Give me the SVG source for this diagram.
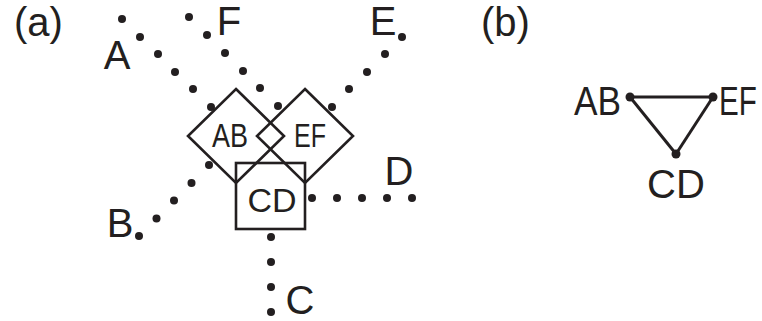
<svg xmlns="http://www.w3.org/2000/svg" width="762" height="321" viewBox="0 0 762 321">
<style>
  .t{font-family:"Liberation Sans","DejaVu Sans",sans-serif;fill:#231f20}
  .big{font-size:40px}
  .mid{font-size:34px}
  .sh{fill:none;stroke:#231f20;stroke-width:2.6;stroke-linejoin:miter}
  .dot{fill:#231f20}
  .edge{stroke:#231f20;stroke-width:3;fill:none}
</style>
<rect width="762" height="321" fill="#fff"/>
<text class="t big" x="14" y="36">(a)</text>
<text class="t big" x="481" y="36">(b)</text>

<g id="connectors">
  <g id="conn-A" class="dot">
    <circle cx="122" cy="19" r="4"/><circle cx="140" cy="37" r="4"/><circle cx="158" cy="54" r="4"/>
    <circle cx="175" cy="72" r="4"/><circle cx="193" cy="89" r="4"/><circle cx="211" cy="107" r="4"/>
  </g>
  <g id="conn-F" class="dot">
    <circle cx="189" cy="17" r="4"/><circle cx="207" cy="35" r="4"/><circle cx="225" cy="53" r="4"/>
    <circle cx="243" cy="71" r="4"/><circle cx="260" cy="88" r="4"/><circle cx="278" cy="106" r="4"/>
  </g>
  <g id="conn-E" class="dot">
    <circle cx="402" cy="37" r="4"/><circle cx="385" cy="54" r="4"/><circle cx="367" cy="72" r="4"/>
    <circle cx="349" cy="89" r="4"/><circle cx="332" cy="107" r="4"/>
  </g>
  <g id="conn-B" class="dot">
    <circle cx="209" cy="165" r="4"/><circle cx="191.5" cy="183" r="4"/><circle cx="174" cy="200.5" r="4"/>
    <circle cx="156.5" cy="218.5" r="4"/><circle cx="139" cy="236" r="4"/>
  </g>
  <g id="conn-D" class="dot">
    <circle cx="312" cy="198" r="4"/><circle cx="337" cy="198" r="4"/><circle cx="362" cy="198" r="4"/>
    <circle cx="387" cy="198" r="4"/><circle cx="412" cy="198" r="4"/>
  </g>
  <g id="conn-C" class="dot">
    <circle cx="271" cy="237" r="4"/><circle cx="271" cy="262" r="4"/><circle cx="271" cy="287" r="4"/>
    <circle cx="271" cy="312" r="4"/>
  </g>
  <g id="edges-b">
    <line class="edge" x1="630" y1="97" x2="713" y2="97"/>
    <line class="edge" x1="630" y1="97" x2="676" y2="154"/>
    <line class="edge" x1="713" y1="97" x2="676" y2="154"/>
  </g>
</g>

<g id="labels-a">
  <text class="t big" x="117" y="69" text-anchor="middle">A</text>
  <text class="t big" x="229" y="35" text-anchor="middle">F</text>
  <text class="t big" x="383" y="35" text-anchor="middle">E</text>
  <text class="t big" x="120" y="237" text-anchor="middle">B</text>
  <text class="t big" x="399" y="185" text-anchor="middle">D</text>
  <text class="t big" x="300" y="314" text-anchor="middle">C</text>
</g>

<g id="node-AB">
  <polygon class="sh" points="236,89 284,136 236,183 188,136"/>
  <text class="t mid" x="212" y="147" textLength="36" lengthAdjust="spacingAndGlyphs">AB</text>
</g>
<g id="node-EF">
  <polygon class="sh" points="305,89 353,136 305,183 257,136"/>
  <text class="t mid" x="294" y="147" textLength="32" lengthAdjust="spacingAndGlyphs">EF</text>
</g>
<g id="node-CD">
  <rect class="sh" x="236" y="163" width="69" height="66"/>
  <text class="t mid" x="272" y="212" text-anchor="middle">CD</text>
</g>

<g id="node-b-AB">
  <circle class="dot" cx="630" cy="97" r="4.5"/>
  <text class="t big" x="574" y="115" textLength="47" lengthAdjust="spacingAndGlyphs">AB</text>
</g>
<g id="node-b-EF">
  <circle class="dot" cx="713" cy="97" r="4.5"/>
  <text class="t big" transform="translate(719,115) scale(0.74,1)">EF</text>
</g>
<g id="node-b-CD">
  <circle class="dot" cx="676" cy="154" r="4.5"/>
  <text class="t big" x="676" y="198" text-anchor="middle">CD</text>
</g>
</svg>
